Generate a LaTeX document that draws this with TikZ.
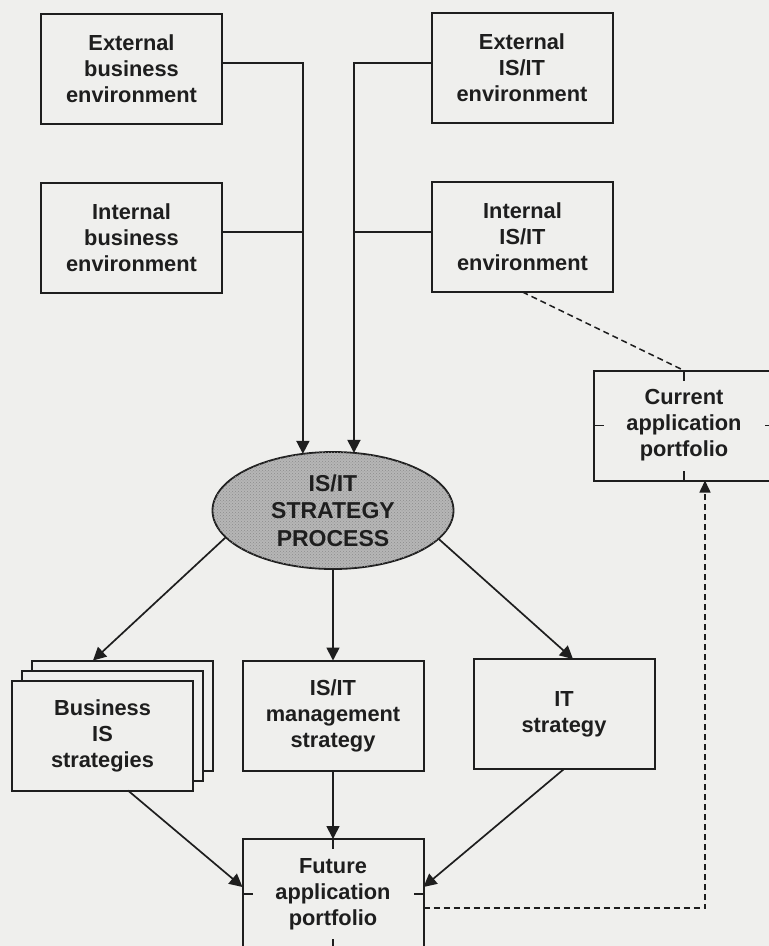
\documentclass[tikz,border=0pt]{standalone}
\usepackage{fontspec}
\setmainfont{Liberation Sans}
\usetikzlibrary{arrows.meta,shapes.geometric,patterns}
\definecolor{paper}{RGB}{239,239,237}
\definecolor{ink}{RGB}{30,30,30}
\definecolor{ellgray}{RGB}{182,182,182}
\begin{document}
\begin{tikzpicture}[x=1pt,y=-1pt,
  box/.style={draw=ink, line width=2pt, fill=paper, minimum width=181pt,
    minimum height=110pt, inner sep=0pt, outer sep=0pt, align=center,
    text=ink, font=\fontsize{21.8}{26}\selectfont\bfseries},
  conn/.style={draw=ink, line width=1.7pt},
  arr/.style={conn, -{Triangle[length=13pt,width=13pt]}},
  dashline/.style={draw=ink, line width=1.5pt, dash pattern=on 6pt off 4pt},
  dasharr/.style={dashline, -{Triangle[length=12pt,width=11pt]}},
  tick/.style={draw=ink, line width=1.7pt}
]
% page
\clip (0,0) rectangle (769,946);
\fill[paper] (0,0) rectangle (769,946);

% environment boxes
\node[box] (eb)  at (131.5,68.5) {External\\business\\environment};
\node[box] (ib)  at (131.5,238)  {Internal\\business\\environment};
\node[box] (eit) at (522,68)     {External\\IS/IT\\environment};
\node[box] (iit) at (522.5,237)  {Internal\\IS/IT\\environment};

% central process
\node[ellipse, draw=ink, line width=1.8pt, fill=ellgray,
      postaction={pattern=crosshatch dots, pattern color=black!45},
      minimum width=241pt, minimum height=117pt, inner sep=0pt, outer sep=0pt,
      align=center, text=ink, font=\fontsize{23}{27.5}\selectfont\bfseries]
  (ell) at (333,510.5) {IS/IT\\STRATEGY\\PROCESS};

% current portfolio
\node[box] (cur) at (684,425.5) {Current\\application\\portfolio};

% outputs
\node[box] (bis3) at (122.5,715.5) {};
\node[box] (bis2) at (112.5,725.5) {};
\node[box] (bis)  at (102.5,735.5) {Business\\IS\\strategies};
\node[box] (mgmt) at (333,715.5) {IS/IT\\management\\strategy};
\node[box] (it)   at (564,714)   {IT\\strategy};
\node[box] (fut)  at (333,894)   {Future\\application\\portfolio};

% inputs into the process
\coordinate (ebj)  at ([yshift=5.5pt]eb.east);
\coordinate (ibj)  at ([yshift=6pt]ib.east);
\coordinate (eitj) at ([yshift=5pt]eit.west);
\coordinate (iitj) at ([yshift=5pt]iit.west);
\draw[arr]  (ebj) -| (ell.118);
\draw[conn] (ibj) -- (ibj -| ell.118);
\draw[arr]  (eitj) -| (ell.70.9);
\draw[conn] (iitj) -- (iitj -| ell.70.9);

% outputs of the process
\draw[arr] (ell.194.9) -- ([xshift=-29.5pt]bis3.north);
\draw[arr] (ell.south) -- (mgmt.north);
\draw[arr] (ell.345.1) -- ([xshift=9pt]it.north);

% into the future portfolio
\draw[arr] ([xshift=25.5pt]bis.south) -- ([yshift=7pt]fut.west);
\draw[arr] (mgmt.south) -- (fut.north);
\draw[arr] (it.south) -- ([yshift=7pt]fut.east);

% feedback links
\draw[dasharr] ([yshift=-14pt]fut.east) -| ([xshift=21pt]cur.south);
\draw[dashline] (iit.south) -- (cur.north);

% connection ticks on the portfolio boxes
\foreach \n in {cur,fut}{
  \draw[tick] (\n.north) -- ++(0,10);
  \draw[tick] (\n.south) -- ++(0,-10);
  \draw[tick] (\n.west) -- ++(10,0);
  \draw[tick] (\n.east) -- ++(-10,0);
}
\end{tikzpicture}
\end{document}
